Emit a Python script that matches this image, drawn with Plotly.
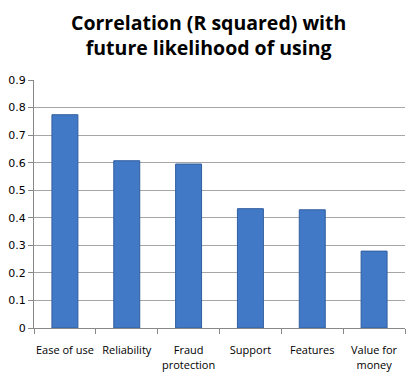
import plotly.graph_objects as go

categories = ["Ease of use", "Reliability", "Fraud<br>protection", "Support", "Features", "Value for<br>money"]
r_squared = [0.774, 0.607, 0.595, 0.433, 0.429, 0.279]
y_ticks = [0, 0.1, 0.2, 0.3, 0.4, 0.5, 0.6, 0.7, 0.8, 0.9]
y_tick_labels = ["0", "0.1", "0.2", "0.3", "0.4", "0.5", "0.6", "0.7", "0.8", "0.9"]
title_text = "<b>Correlation (R squared) with<br>future likelihood of using</b>"

L, R, T, B, W, H = 34, 11, 80, 57, 416, 385
pw, ph = W - L - R, H - T - B

fig = go.Figure(go.Bar(
    x=categories, y=r_squared,
    marker=dict(color="#4279C6", line=dict(color="#2F5E9F", width=1)),
))

fig.add_annotation(
    text=title_text, xref="paper", yref="paper",
    x=(W / 2 - L) / pw, y=1 + (T - 35) / ph, xanchor="center", yanchor="middle",
    showarrow=False, align="center",
    font=dict(family="Open Sans", size=19.5, color="black"),
)

fig.update_layout(
    width=W, height=H,
    margin=dict(l=L, r=R, t=T, b=B),
    paper_bgcolor="white", plot_bgcolor="white",
    bargap=0.58,
    showlegend=False,
    xaxis=dict(
        automargin=False,
        tickson="boundaries", ticks="outside", ticklen=5, tickcolor="#888888",
        showline=True, linecolor="#888888", linewidth=1,
        tickangle=0, ticklabelstandoff=12,
        tickfont=dict(family="Open Sans", size=11, color="black"),
        showgrid=False,
    ),
    yaxis=dict(
        automargin=False,
        range=[0, 0.9], tickvals=y_ticks, ticktext=y_tick_labels,
        ticks="outside", ticklen=5, tickcolor="#888888",
        showline=True, linecolor="#888888", linewidth=1,
        showgrid=True, gridcolor="#A6A6A6", gridwidth=1,
        tickfont=dict(family="DejaVu Sans", size=11, color="black"),
        zeroline=False,
    ),
)

fig.write_html(
    "out.html",
    config={"displayModeBar": False},
    post_script="document.body.style.margin='0';document.body.style.overflow='hidden';",
)
